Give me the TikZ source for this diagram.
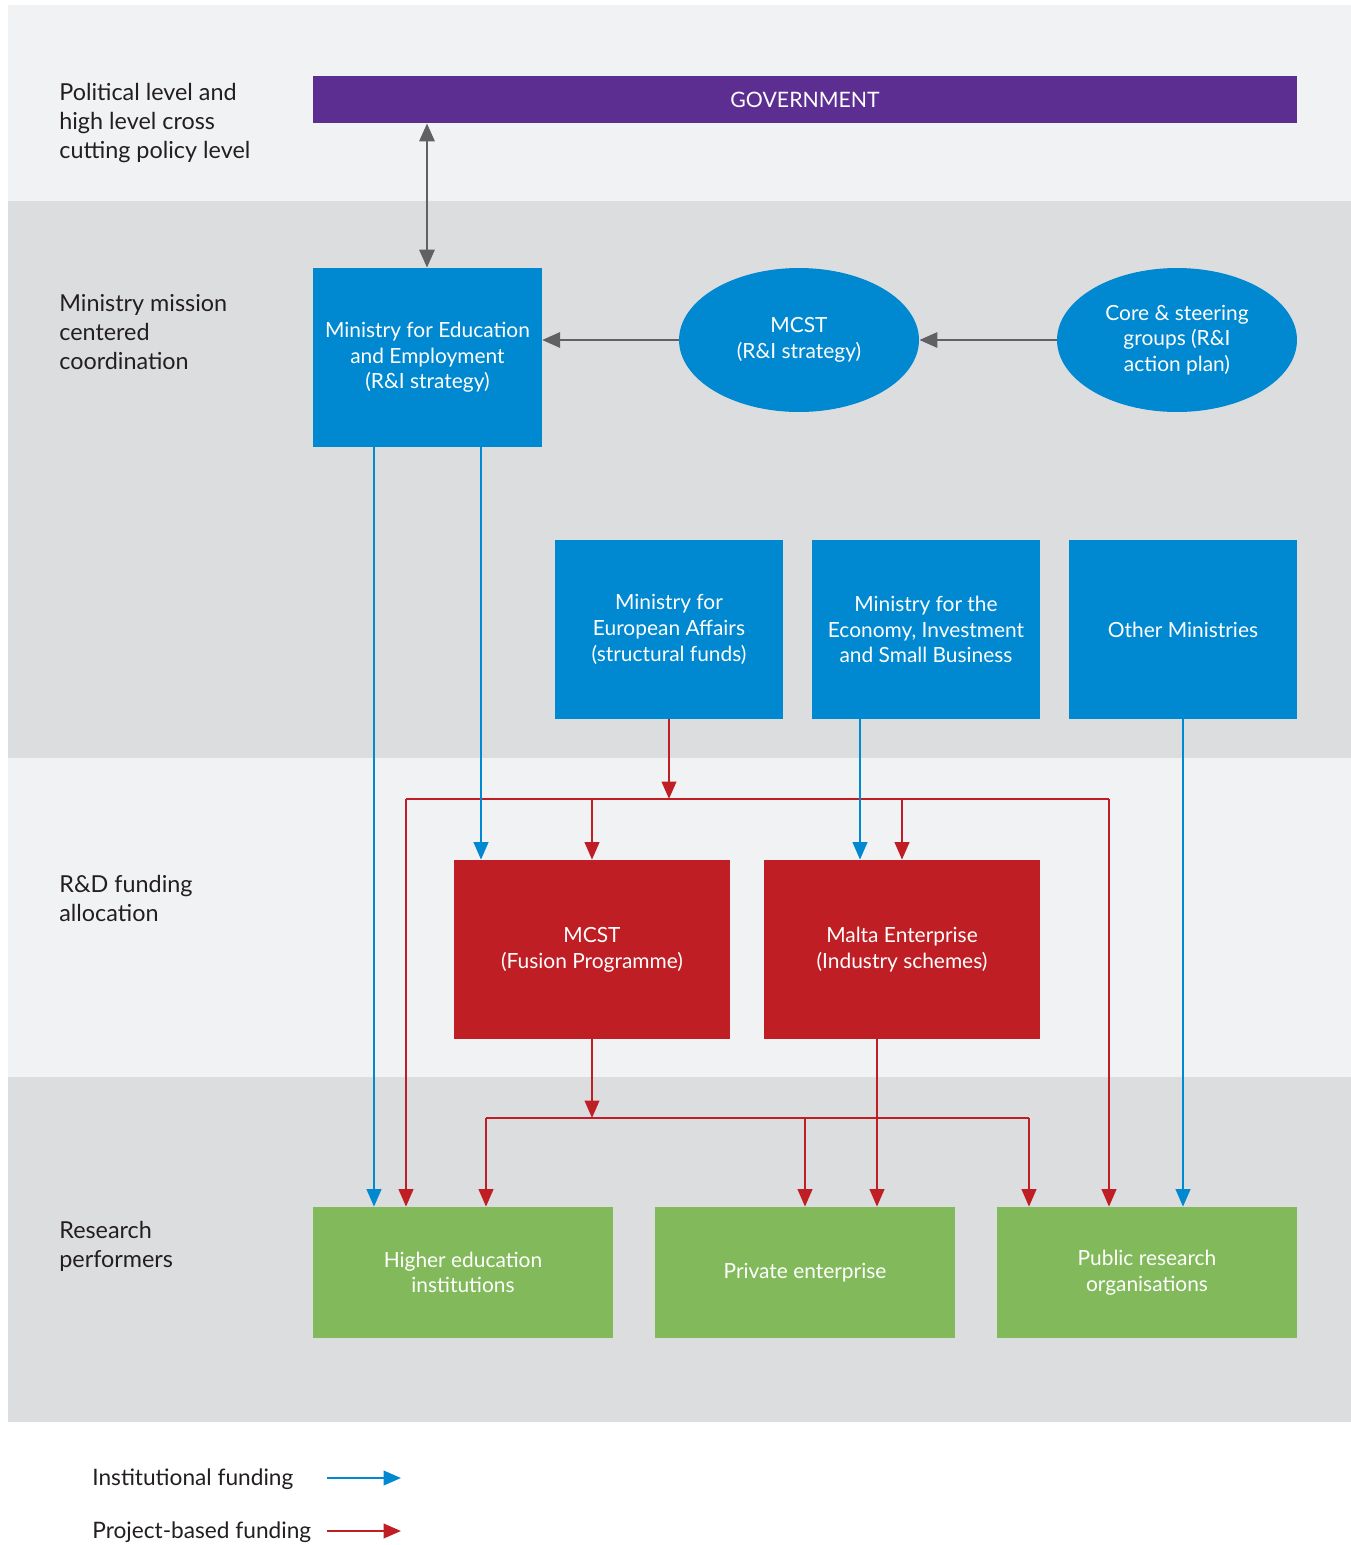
\documentclass[tikz,border=0pt]{standalone}
\usepackage{fontspec}
\setmainfont{Lato}
\usetikzlibrary{arrows.meta,shapes.geometric,calc}
\definecolor{bandL}{HTML}{F1F2F4}
\definecolor{bandD}{HTML}{DCDDDF}
\definecolor{govp}{HTML}{5C2E91}
\definecolor{mblue}{HTML}{0088D1}
\definecolor{mred}{HTML}{BE1E24}
\definecolor{mgreen}{HTML}{82BA5B}
\definecolor{agray}{HTML}{616163}
\definecolor{txt}{HTML}{231F20}
\tikzset{
  boxbase/.style={draw=none,text=white,align=center,inner sep=0pt,font=\fontsize{11.9pt}{14.6pt}\selectfont},
  bluebox/.style={boxbase,rectangle,fill=mblue,minimum width=4.57cm,minimum height=3.58cm},
  redbox/.style={boxbase,rectangle,fill=mred,minimum width=5.52cm,minimum height=3.58cm},
  greenbox/.style={boxbase,rectangle,fill=mgreen,minimum width=6.0cm,minimum height=2.62cm},
  blueell/.style={boxbase,ellipse,fill=mblue,minimum width=4.8cm,minimum height=2.88cm},
  lvl/.style={anchor=north west,align=left,text=txt,inner sep=0pt,font=\fontsize{13.3pt}{16.4pt}\selectfont},
  grayarr/.style={draw=agray,line width=1.7pt,-{Triangle[length=0.36cm,width=0.3cm]}},
  bluearr/.style={draw=mblue,line width=1.4pt,-{Triangle[length=0.35cm,width=0.29cm]}},
  redarr/.style={draw=mred,line width=1.4pt,-{Triangle[length=0.35cm,width=0.29cm]}},
  redline/.style={draw=mred,line width=1.4pt},
}
\begin{document}
\begin{tikzpicture}[x=0.02cm,y=-0.02cm]
\useasboundingbox (0,0) rectangle (1351,1545);
\fill[white] (0,0) rectangle (1351,1545);
% bands
\fill[bandL] (8,5) rectangle (1351,201);
\fill[bandD] (8,201) rectangle (1351,758);
\fill[bandL] (8,758) rectangle (1351,1077);
\fill[bandD] (8,1077) rectangle (1351,1422);
% level labels
\node[lvl] (l1) at (59,83) {Political level and\\high level cross\\cutting policy level};
\node[lvl] (l2) at (59,294) {Ministry mission\\centered\\coordination};
\node[lvl] (l3) at (59,875) {R\&D funding\\allocation};
\node[lvl] (l4) at (59,1221) {Research\\performers};
% nodes
\node[boxbase,rectangle,fill=govp,minimum width=19.68cm,minimum height=0.94cm,font=\fontsize{12.1pt}{14pt}\selectfont] (gov) at (805,99.5) {GOVERNMENT};
\node[bluebox] (mined) at (427.5,357.5) {Ministry for Education\\and Employment\\(R\&I strategy)};
\node[blueell] (mcst) at (799,340) {MCST\\(R\&I strategy)};
\node[blueell] (core) at (1177,340) {Core \& steering\\groups (R\&I\\action plan)};
\node[bluebox] (mineu) at (669,629.5) {Ministry for\\European Affairs\\(structural funds)};
\node[bluebox] (mineco) at (926,629.5) {Ministry for the\\Economy, Investment\\and Small Business};
\node[bluebox] (other) at (1183,629.5) {Other Ministries};
\node[redbox] (fusion) at (592,949.5) {MCST\\(Fusion Programme)};
\node[redbox] (malta) at (902,949.5) {Malta Enterprise\\(Industry schemes)};
\node[greenbox] (hei) at (463,1272.5) {Higher education\\institutions};
\node[greenbox] (pe) at (805,1272.5) {Private enterprise};
\node[greenbox] (pro) at (1147,1272.5) {Public research\\organisations};
% gray arrows
\draw[grayarr,{Triangle[length=0.36cm,width=0.3cm]}-{Triangle[length=0.36cm,width=0.3cm]}] (gov.south -| 427,0) -- (mined.north -| 427,0);
\draw[grayarr] (mcst.west) -- (mined.east |- mcst.west);
\draw[grayarr] (core.west) -- (mcst.east);
% red bus from Ministry for European Affairs
\coordinate (busaL) at (406,799);
\coordinate (busaR) at (1109,799);
\draw[redline] (busaL) -- (busaR);
\draw[redarr] (mineu.south) -- (mineu.south |- busaL);
\draw[redarr] (busaL) -- (hei.north -| busaL);
\draw[redarr] (busaR) -- (pro.north -| busaR);
\draw[redarr] (fusion.north |- busaL) -- (fusion.north);
\draw[redarr] (malta.north |- busaL) -- (malta.north);
% red bus from MCST Fusion
\coordinate (busbL) at (486,1118);
\coordinate (busbR) at (1029,1118);
\draw[redline] (busbL) -- (busbR);
\draw[redarr] (fusion.south) -- (fusion.south |- busbL);
\draw[redarr] (busbL) -- (hei.north -| busbL);
\draw[redarr] (pe.north |- busbL) -- (pe.north);
\draw[redarr] (busbR) -- (pro.north -| busbR);
\draw[redarr] (malta.south -| 877,0) -- (pe.north -| 877,0);
% blue arrows
\draw[bluearr] (mined.south -| 374,0) -- (hei.north -| 374,0);
\draw[bluearr] (mined.south -| 481,0) -- (fusion.north -| 481,0);
\draw[bluearr] (mineco.south -| 860,0) -- (malta.north -| 860,0);
\draw[bluearr] (other.south) -- (pro.north -| other.south);
% legend
\node[anchor=west,text=txt,inner sep=0pt,font=\fontsize{12.9pt}{15pt}\selectfont] (leg1) at (92,1479) {Institutional funding};
\node[anchor=west,text=txt,inner sep=0pt,font=\fontsize{12.9pt}{15pt}\selectfont] (leg2) at (92,1532) {Project-based funding};
\coordinate (lg1a) at (327,1478); \coordinate (lg1b) at (401,1478);
\coordinate (lg2a) at (327,1531); \coordinate (lg2b) at (401,1531);
\draw[bluearr] (lg1a) -- (lg1b);
\draw[redarr] (lg2a) -- (lg2b);
\end{tikzpicture}
\end{document}
